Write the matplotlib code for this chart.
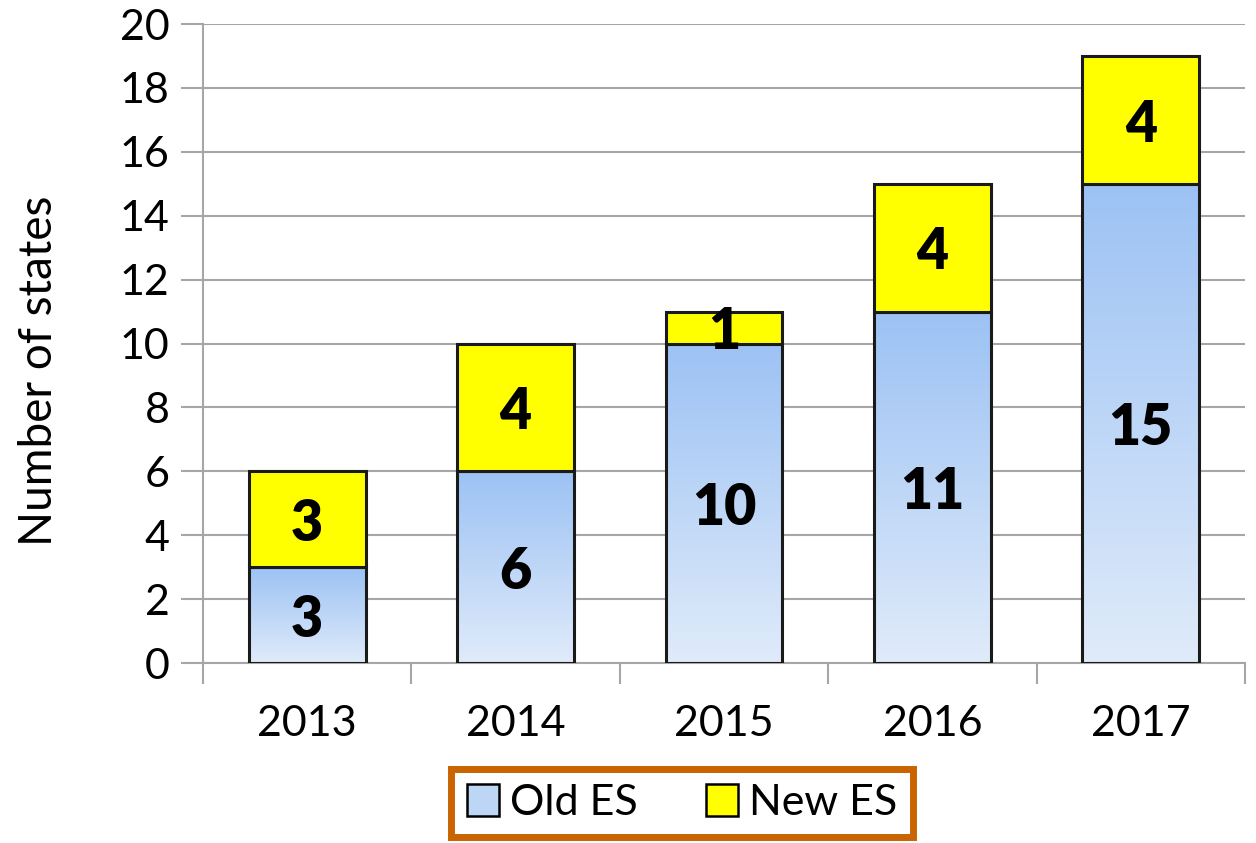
import matplotlib.pyplot as plt
import numpy as np
from matplotlib.patches import Patch
from matplotlib.colors import LinearSegmentedColormap

years = ["2013", "2014", "2015", "2016", "2017"]
old_es = [3, 6, 10, 11, 15]
new_es = [3, 4, 1, 4, 4]

plt.rcParams['font.family'] = ['Lato', 'DejaVu Sans']

fig = plt.figure(figsize=(12.56, 8.43), dpi=100)
ax = fig.add_axes([0.1616, 0.2135, 0.8296, 0.758])

x = np.arange(len(years))
w = 0.56
blue_grad = LinearSegmentedColormap.from_list("oldes", ["#E0EBFA", "#9CC2F4"])
grad = np.linspace(0, 1, 256).reshape(-1, 1)

old_bars = ax.bar(x, old_es, w, facecolor="none", edgecolor="#1a1a1a", linewidth=2.2, zorder=3)
new_bars = ax.bar(x, new_es, w, bottom=old_es, color="#FFFF00", edgecolor="#1a1a1a",
                  linewidth=2.2, zorder=3)

# vertical gradient inside each Old ES bar
for b in old_bars:
    x0, y0 = b.get_x(), b.get_y()
    im = ax.imshow(grad, cmap=blue_grad, origin="lower", aspect="auto",
                   extent=[x0, x0 + b.get_width(), y0, y0 + b.get_height()], zorder=2)
    im.set_clip_path(b)

for xi, o, n in zip(x, old_es, new_es):
    ax.text(xi, o / 2 - 0.15, str(o), ha="center", va="center", fontsize=40, fontweight="heavy", zorder=4)
    ax.text(xi, o + n / 2 - 0.15, str(n), ha="center", va="center", fontsize=40, fontweight="heavy", zorder=4)

ax.set_xlim(-0.5, len(years) - 0.5)
ax.set_ylim(0, 20)
ax.set_yticks(range(0, 21, 2))
ax.yaxis.grid(True, color="#A6A6A6", linewidth=1.5, zorder=0)
ax.set_axisbelow(True)

ax.set_xticks(x)
ax.set_xticklabels(years)
ax.set_xticks(np.arange(-0.5, len(years)), minor=True)
ax.tick_params(axis="x", which="major", length=0, pad=30, labelsize=31)
ax.tick_params(axis="x", which="minor", length=15, width=1.5, color="#A6A6A6")
ax.tick_params(axis="y", length=16, width=1.5, color="#A6A6A6", labelsize=31, pad=8)

for s in ["top", "right"]:
    ax.spines[s].set_visible(False)
for s in ["left", "bottom"]:
    ax.spines[s].set_color("#A6A6A6")
    ax.spines[s].set_linewidth(1.5)

ax.set_ylabel("Number of states", fontsize=33)
ax.yaxis.set_label_coords(-0.137, 0.457)

handles = [Patch(facecolor="#BDD6F6", edgecolor="black", linewidth=1.8, label="Old ES"),
           Patch(facecolor="#FFFF00", edgecolor="black", linewidth=1.8, label="New ES")]
leg = fig.legend(handles=handles, loc="center", bbox_to_anchor=(0.543, 0.0474), ncol=2,
                 fontsize=31, frameon=True, fancybox=False, framealpha=1,
                 handlelength=0.75, handleheight=0.75,
                 handletextpad=0.25, columnspacing=1.6, borderpad=0.35, borderaxespad=0)
leg.get_frame().set_edgecolor("#C96400")
leg.get_frame().set_linewidth(5)

fig.savefig("out.png", dpi=100)
